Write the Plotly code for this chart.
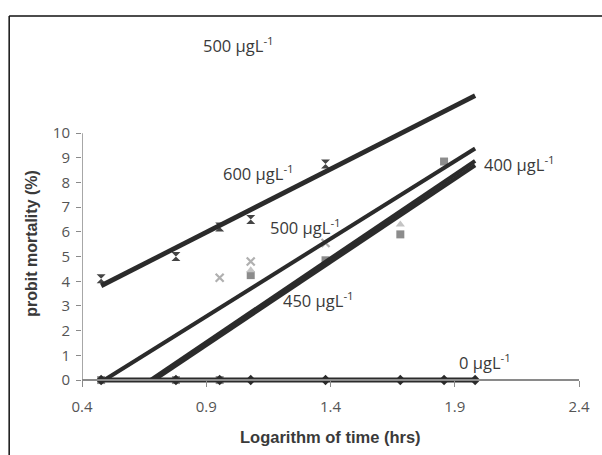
import plotly.graph_objects as go

# ---------------- data ----------------
log_time = [0.477, 0.778, 0.954, 1.079, 1.380, 1.681, 1.857, 1.982]

# observed probit values (markers)
x_600 = [0.477, 0.778, 0.954, 1.079, 1.380]
y_600 = [4.1, 5.0, 6.2, 6.5, 8.75]

x_400 = [0.477, 0.778, 0.954, 1.079, 1.380, 1.681, 1.857]
y_400 = [0.0, 0.0, 0.0, 4.25, 4.85, 5.9, 8.85]

x_450 = [1.079, 1.681]
y_450 = [4.45, 6.3]

x_500 = [0.954, 1.079, 1.380]
y_500 = [4.14, 4.8, 5.55]

y_0 = [0, 0, 0, 0, 0, 0, 0, 0]

# fitted trend lines (start / end values)
trend_600_x = [0.477, 1.982]
trend_600_y = [3.82, 11.52]
trend_500_x = [0.49, 1.982]
trend_500_y = [0.0, 9.38]
trend_400_x = [0.675, 1.982]
trend_400_y = [0.0, 8.88]
trend_450_x = [0.69, 1.982]
trend_450_y = [0.0, 8.70]

x_ticks = [0.4, 0.9, 1.4, 1.9, 2.4]
y_ticks = list(range(0, 11))

# label positions
labels = [
    ("600 µgL<sup>-1</sup>", 1.11, 8.38),
    ("500 µgL<sup>-1</sup>", 1.30, 6.2),
    ("450 µgL<sup>-1</sup>", 1.35, 3.25),
    ("400 µgL<sup>-1</sup>", 2.16, 8.75),
    ("0 µgL<sup>-1</sup>", 2.02, 0.72),
]

# ---------------- layout geometry ----------------
W, H = 602, 455
ML, MR, MT, MB = 82, 15, 64, 70
YMIN, YMAX = -0.2, 12.8
plot_w = W - ML - MR
plot_h = H - MT - MB


def px_x(p):
    return (p - ML) / plot_w


def px_y(p):
    return (H - MB - p) / plot_h


DARK = "#2b2b2b"
AXC = "#8a8a8a"
TXT = "#3a3a3a"
FONT = "Open Sans, Noto Sans, sans-serif"
BOLD = "Arial, Liberation Sans, sans-serif"

fig = go.Figure()

# markers
fig.add_trace(go.Scatter(x=x_400, y=y_400, mode="markers", cliponaxis=False,
                         marker=dict(symbol="square", size=8, color="#8c8c8c"),
                         showlegend=False))
fig.add_trace(go.Scatter(x=x_450, y=y_450, mode="markers", cliponaxis=False,
                         marker=dict(symbol="triangle-up", size=8, color="#c4c4c4"),
                         showlegend=False))
fig.add_trace(go.Scatter(x=x_500, y=y_500, mode="markers", cliponaxis=False,
                         marker=dict(symbol="x-thin", size=8, line=dict(width=2.2, color="#b0b0b0")),
                         showlegend=False))
fig.add_trace(go.Scatter(x=x_600, y=y_600, mode="markers", cliponaxis=False,
                         marker=dict(symbol="hourglass", size=9, color="#444444"),
                         showlegend=False))

# trend lines
for tx, ty, w in [(trend_600_x, trend_600_y, 4.8),
                  (trend_500_x, trend_500_y, 4.0),
                  (trend_400_x, trend_400_y, 4.0),
                  (trend_450_x, trend_450_y, 4.0)]:
    fig.add_trace(go.Scatter(x=tx, y=ty, mode="lines",
                             line=dict(color=DARK, width=w), showlegend=False))

# control series
fig.add_trace(go.Scatter(x=log_time, y=y_0, mode="lines+markers", cliponaxis=False,
                         line=dict(color=DARK, width=5),
                         marker=dict(symbol="diamond", size=8, color=DARK),
                         showlegend=False))

annotations = []
for text, lx, ly in labels:
    annotations.append(dict(x=lx, y=ly, xref="x", yref="y", text=text, showarrow=False,
                            xanchor="center", yanchor="middle",
                            font=dict(family=FONT, size=16.5, color=TXT)))
# stray label above the plot
annotations.append(dict(x=1.03, y=px_y(45), xref="x", yref="paper",
                        text="500 µgL<sup>-1</sup>", showarrow=False,
                        xanchor="center", yanchor="middle",
                        font=dict(family=FONT, size=16.5, color=TXT)))
# axis titles
annotations.append(dict(x=px_x(335), y=px_y(437), xref="paper", yref="paper",
                        text="<b>Logarithm of time (hrs)</b>", showarrow=False,
                        xanchor="center", yanchor="middle",
                        font=dict(family=BOLD, size=16.5, color=TXT)))
annotations.append(dict(x=px_x(31), y=px_y(243), xref="paper", yref="paper",
                        text="<b>probit mortality (%)</b>", showarrow=False, textangle=-90,
                        xanchor="center", yanchor="middle",
                        font=dict(family=BOLD, size=16, color=TXT)))

shapes = [
    # y-axis line from 0 to 10
    dict(type="line", xref="x", yref="y", x0=0.4, x1=0.4, y0=0, y1=10,
         line=dict(color=AXC, width=1.5), layer="below"),
    # outer chart frame: top and left edges (the rest lies outside the picture)
    dict(type="line", xref="paper", yref="paper",
         x0=px_x(8), x1=px_x(640), y0=px_y(16), y1=px_y(16),
         line=dict(color="#111111", width=1.5), layer="above"),
    dict(type="line", xref="paper", yref="paper",
         x0=px_x(8), x1=px_x(8), y0=px_y(16), y1=px_y(500),
         line=dict(color="#111111", width=1.5), layer="above"),
]

fig.update_layout(
    width=W, height=H,
    margin=dict(l=ML, r=MR, t=MT, b=MB),
    paper_bgcolor="white", plot_bgcolor="white",
    annotations=annotations, shapes=shapes,
    xaxis=dict(range=[0.4, 2.4], anchor="free", position=(0 - YMIN) / (YMAX - YMIN),
               tickvals=x_ticks, ticktext=[str(v) for v in x_ticks],
               ticks="outside", ticklen=6, tickcolor=AXC, tickwidth=1.2,
               showline=True, linecolor=AXC, linewidth=1.5,
               showgrid=False, zeroline=False, ticklabelstandoff=7,
               tickfont=dict(family=FONT, size=15, color="#555555")),
    yaxis=dict(range=[YMIN, YMAX], tickvals=y_ticks,
               ticks="outside", ticklen=5, tickcolor=AXC, tickwidth=1.2,
               showline=False, showgrid=False, zeroline=False, ticklabelstandoff=3,
               tickfont=dict(family=FONT, size=15, color="#555555")),
)

fig.write_html("out.html", config={"displayModeBar": False},
               post_script="document.body.style.margin='0';document.body.style.overflow='hidden';")
